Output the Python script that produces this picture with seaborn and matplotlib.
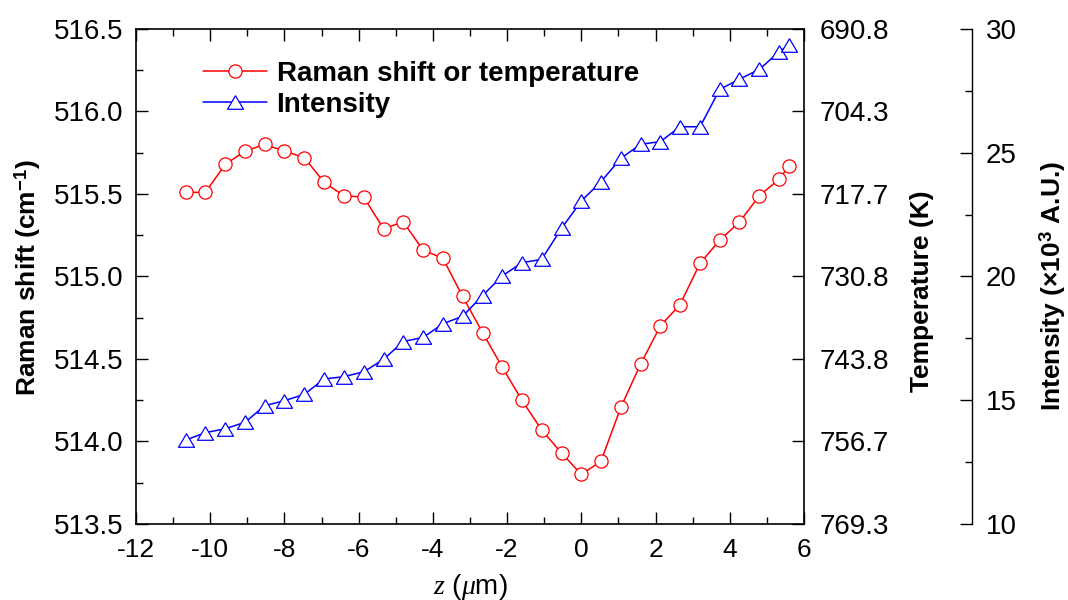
import numpy as np
import pandas as pd
import seaborn as sns
import matplotlib
matplotlib.use("Agg")
import matplotlib.pyplot as plt
from matplotlib.ticker import MultipleLocator, FixedLocator, FixedFormatter

# ---------------- data ----------------
z = [-10.66, -10.13, -9.59, -9.06, -8.53, -8.00, -7.46, -6.93, -6.40, -5.86,
     -5.33, -4.80, -4.26, -3.73, -3.20, -2.66, -2.13, -1.60, -1.07, -0.53,
     0.00, 0.53, 1.07, 1.60, 2.13, 2.66, 3.20, 3.73, 4.26, 4.80, 5.33, 5.60]
raman = [515.51, 515.51, 515.68, 515.76, 515.80, 515.76, 515.72, 515.57, 515.49, 515.48,
         515.29, 515.33, 515.16, 515.11, 514.88, 514.66, 514.45, 514.25, 514.07, 513.93,
         513.80, 513.88, 514.21, 514.47, 514.70, 514.83, 515.08, 515.22, 515.33, 515.49,
         515.59, 515.67]
intensity = [13.39, 13.69, 13.85, 14.11, 14.78, 14.98, 15.24, 15.86, 15.95, 16.15,
             16.65, 17.37, 17.54, 18.09, 18.39, 19.23, 20.02, 20.56, 20.69, 21.95,
             23.05, 23.83, 24.78, 25.34, 25.45, 26.05, 26.05, 27.56, 27.97, 28.37,
             29.08, 29.35]
raman_ticks = [513.5, 514.0, 514.5, 515.0, 515.5, 516.0, 516.5]
temp_labels = ["769.3", "756.7", "743.8", "730.8", "717.7", "704.3", "690.8"]
x_ticks = [-12, -10, -8, -6, -4, -2, 0, 2, 4, 6]
int_ticks = [10, 15, 20, 25, 30]
series_names = ["Raman shift or temperature", "Intensity"]

df = pd.DataFrame({"z": z, "raman": raman, "intensity": intensity})

# ---------------- style ----------------
sns.set_style("ticks")
plt.rcParams["font.family"] = ["Liberation Sans", "DejaVu Sans"]
plt.rcParams["mathtext.fontset"] = "custom"
plt.rcParams["mathtext.rm"] = "Liberation Sans"
plt.rcParams["mathtext.bf"] = "Liberation Sans:bold"
plt.rcParams["mathtext.it"] = "Liberation Serif:italic"
plt.rcParams["axes.unicode_minus"] = False
for key in ["text.color", "axes.labelcolor", "xtick.color", "ytick.color",
            "axes.edgecolor"]:
    plt.rcParams[key] = "black"

FS = 20      # y tick labels / legend
FSX = 19     # x tick labels
FSL = 19     # axis titles

tri = [(0, 0.85), (-1, -0.85), (1, -0.85), (0, 0.85)]

fig = plt.figure(figsize=(10.68, 6), dpi=100)
ax = fig.add_axes([0.1273, 0.1267, 0.6255, 0.825])
ax2 = ax.twinx()
ax3 = ax.twinx()

sns.lineplot(data=df, x="z", y="raman", ax=ax, color="#ff0000", marker="o",
             markersize=9.5, markerfacecolor="white", markeredgecolor="#ff0000",
             markeredgewidth=0.9, linewidth=1.1, legend=False)
sns.lineplot(data=df, x="z", y="intensity", ax=ax3, color="#0000ff", marker=tri,
             markersize=11.5, markerfacecolor="white", markeredgecolor="#0000ff",
             markeredgewidth=0.9, linewidth=1.1, legend=False)

# main axes
ax.set_xlim(-12, 6)
ax.set_ylim(513.5, 516.5)
ax.xaxis.set_major_locator(FixedLocator(x_ticks))
ax.xaxis.set_minor_locator(MultipleLocator(1))
ax.yaxis.set_major_locator(FixedLocator(raman_ticks))
ax.yaxis.set_minor_locator(MultipleLocator(0.25))
ax.yaxis.set_major_formatter(FixedFormatter([f"{v:.1f}" for v in raman_ticks]))
ax.tick_params(axis="both", which="both", direction="in", width=1.0, colors="black")
ax.tick_params(axis="both", which="major", length=8.5)
ax.tick_params(axis="both", which="minor", length=4.8)
ax.tick_params(axis="x", which="both", top=True, pad=10, labelsize=FSX)
ax.tick_params(axis="y", which="both", right=False, pad=9, labelsize=FS)
for s in ax.spines.values():
    s.set_linewidth(1.2)
    s.set_color("black")

ax.set_xlabel(r"$z$ ($\mu$m)", fontsize=FS)
ax.xaxis.set_label_coords(0.5, -0.127)
ax.xaxis.label.set_va("center")
ax.set_ylabel(r"Raman shift (cm$^{\mathbf{-1}}$)", fontsize=FSL, fontweight="bold")
ax.yaxis.set_label_coords(-0.162, 0.497)
ax.yaxis.label.set_va("center")

# temperature axis (same scale as Raman shift)
ax2.set_ylim(513.5, 516.5)
ax2.yaxis.set_major_locator(FixedLocator(raman_ticks))
ax2.yaxis.set_major_formatter(FixedFormatter(temp_labels))
ax2.yaxis.set_minor_locator(FixedLocator([]))
ax2.tick_params(axis="y", direction="in", length=8.5, width=1.0, labelsize=FS, pad=11,
                colors="black")
for s in ax2.spines.values():
    s.set_visible(False)
ax2.set_ylabel("Temperature (K)", fontsize=FSL, fontweight="bold")
ax2.yaxis.set_label_coords(1.1762, 0.47)
ax2.yaxis.label.set_va("center")

# intensity axis (offset spine)
ax3.set_ylim(10, 30)
ax3.yaxis.set_major_locator(FixedLocator(int_ticks))
ax3.yaxis.set_minor_locator(MultipleLocator(2.5))
for k, s in ax3.spines.items():
    s.set_visible(k == "right")
ax3.spines["right"].set_position(("axes", 1.2515))
ax3.spines["right"].set_linewidth(1.0)
ax3.spines["right"].set_color("black")
ax3.tick_params(axis="y", which="both", direction="in", width=1.0, labelsize=FS, pad=10,
                colors="black")
ax3.tick_params(axis="y", which="major", length=8.5)
ax3.tick_params(axis="y", which="minor", length=4.8)
ax3.set_ylabel(r"Intensity (×10$^{\mathbf{3}}$ A.U.)", fontsize=FSL, fontweight="bold")
ax3.yaxis.set_label_coords(1.3728, 0.48)
ax3.yaxis.label.set_va("center")
ax3.set_xlim(-12, 6)

# legend
handles = [ax.lines[0], ax3.lines[0]]
ax3.legend(handles, series_names, loc="upper left", bbox_to_anchor=(0.0999, 0.936),
           frameon=False, borderaxespad=0, borderpad=0, handlelength=2.3,
           handletextpad=0.36, labelspacing=0.2,
           prop={"size": FS, "weight": "bold"})

fig.savefig("out.png", dpi=100)
